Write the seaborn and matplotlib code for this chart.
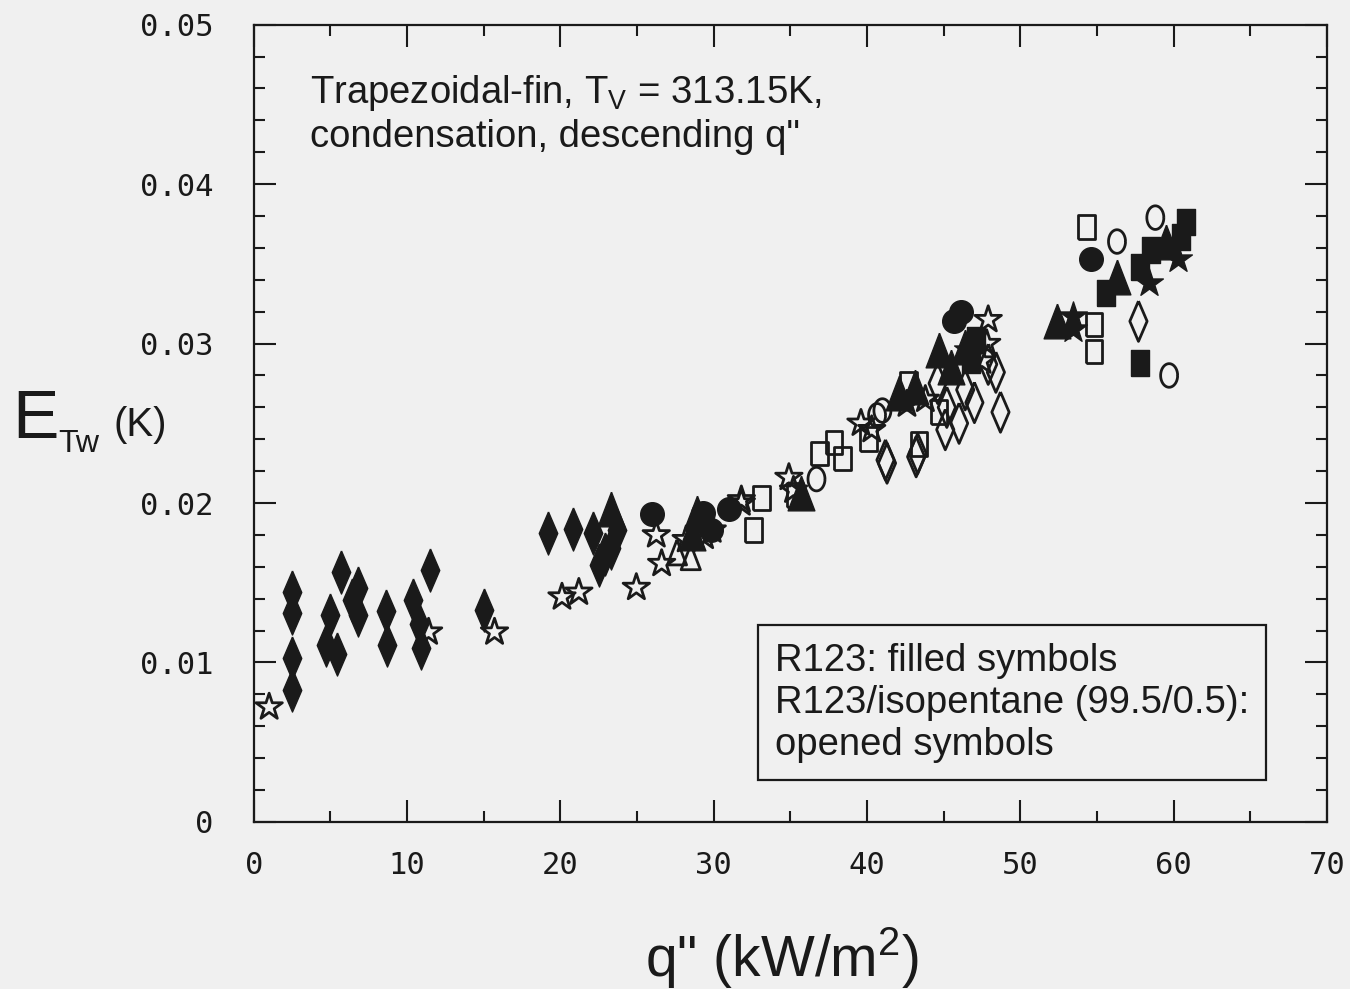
import numpy as np
import seaborn as sns
import matplotlib.pyplot as plt
from matplotlib.ticker import MultipleLocator

# 데이터
filled_diamond_q = [2.5, 2.5, 2.5, 2.5, 4.7, 5.0, 5.4, 5.7, 6.4, 6.8, 6.8, 8.6, 8.7,
                    10.4, 10.8, 11.5, 10.9, 15.0, 19.2, 20.8, 22.1, 22.5, 23.3, 23.7, 22.9]
filled_diamond_E = [0.0144, 0.0131, 0.0103, 0.0083, 0.0111, 0.0130, 0.0105, 0.0157, 0.0139,
                    0.0147, 0.0130, 0.0132, 0.0111, 0.0139, 0.0124, 0.0158, 0.0109, 0.0133,
                    0.0181, 0.0184, 0.0181, 0.0161, 0.0172, 0.0183, 0.0168]

filled_circle_q = [26.0, 29.3, 31.0, 29.8, 46.1, 45.7, 54.6]
filled_circle_E = [0.0193, 0.0194, 0.0196, 0.0183, 0.0320, 0.0314, 0.0353]

filled_triangle_q = [23.3, 28.9, 28.6, 35.7, 42.1, 43.1, 45.5, 44.7, 52.4, 56.3, 59.5, 46.4]
filled_triangle_E = [0.0196, 0.0194, 0.0181, 0.0206, 0.0269, 0.0273, 0.0285, 0.0296,
                     0.0314, 0.0342, 0.0364, 0.0298]

filled_square_q = [55.6, 57.8, 58.5, 60.5, 60.8, 57.8, 46.8, 47.1]
filled_square_E = [0.0332, 0.0348, 0.0359, 0.0367, 0.0376, 0.0288, 0.0290, 0.0302]

filled_star_q = [53.4, 53.4, 58.4, 60.3, 46.6]
filled_star_E = [0.0317, 0.0309, 0.0338, 0.0353, 0.0296]

open_star_q = [1.0, 11.4, 15.7, 20.1, 21.2, 24.95, 26.25, 26.6, 28.2, 29.4, 29.9, 31.8,
               31.8, 34.9, 39.6, 43.8, 47.9, 47.8, 47.5, 35.2, 40.3, 42.6]
open_star_E = [0.0072, 0.0119, 0.0119, 0.0141, 0.0144, 0.0147, 0.0180, 0.0162, 0.0177,
               0.0179, 0.0183, 0.0202, 0.0200, 0.0216, 0.0250, 0.0265, 0.0315, 0.0300,
               0.0289, 0.0208, 0.0246, 0.0262]

open_square_q = [33.1, 32.6, 36.9, 37.85, 38.4, 42.7, 44.7, 40.1, 43.4, 54.3, 54.8, 54.8, 35.3]
open_square_E = [0.0203, 0.0183, 0.0231, 0.0238, 0.0228, 0.0275, 0.0257, 0.0240, 0.0237,
                 0.0373, 0.0312, 0.0295, 0.0205]

open_circle_q = [36.7, 40.65, 41.0, 58.8, 56.3, 59.7]
open_circle_E = [0.0215, 0.0255, 0.0258, 0.0379, 0.0364, 0.0280]

open_triangle_q = [27.6, 28.5]
open_triangle_E = [0.0169, 0.0166]

open_diamond_q = [41.2, 43.2, 41.3, 43.3, 45.1, 46.0, 47.0, 48.7, 48.4, 44.6, 45.2, 46.4,
                  57.7, 47.9]
open_diamond_E = [0.0227, 0.0229, 0.0225, 0.0231, 0.0246, 0.0250, 0.0263, 0.0257, 0.0282,
                  0.0275, 0.0260, 0.0271, 0.0314, 0.0287]

x_ticks = [0, 10, 20, 30, 40, 50, 60, 70]
y_ticks = [0, 0.01, 0.02, 0.03, 0.04, 0.05]
y_tick_labels = ['0', '0.01', '0.02', '0.03', '0.04', '0.05']

# 스타일
sns.set_style('ticks')
plt.rcParams['font.family'] = ['Liberation Sans', 'DejaVu Sans']
plt.rcParams['mathtext.fontset'] = 'custom'
plt.rcParams['mathtext.rm'] = 'Liberation Sans'
plt.rcParams['mathtext.it'] = 'Liberation Sans'

bg = '#f0f0f0'
ink = '#1a1a1a'

# 마커 모양 (세로로 긴 기호)
tall_diamond = [(0, 1), (0.43, 0), (0, -1), (-0.43, 0), (0, 1)]
tall_rect = [(-0.7, -1), (0.7, -1), (0.7, 1), (-0.7, 1), (-0.7, -1)]
tall_tri = [(0, 1), (0.77, -1), (-0.77, -1), (0, 1)]
t = np.linspace(0, 2 * np.pi, 40)
tall_ellipse = list(zip(0.72 * np.cos(t), np.sin(t)))

fig = plt.figure(figsize=(13.5, 9.89), dpi=100, facecolor=bg)
ax = fig.add_axes([0.188, 0.169, 0.795, 0.806])
ax.set_facecolor(bg)

series = [
    (filled_diamond_q, filled_diamond_E, tall_diamond, 31, True),
    (filled_circle_q, filled_circle_E, 'o', 17, True),
    (filled_triangle_q, filled_triangle_E, tall_tri, 25, True),
    (filled_square_q, filled_square_E, tall_rect, 19, True),
    (filled_star_q, filled_star_E, '*', 21, True),
    (open_star_q, open_star_E, '*', 20, False),
    (open_square_q, open_square_E, tall_rect, 17, False),
    (open_circle_q, open_circle_E, tall_ellipse, 17, False),
    (open_triangle_q, open_triangle_E, tall_tri, 18, False),
    (open_diamond_q, open_diamond_E, tall_diamond, 29, False),
]

for q, e, m, size, filled in series:
    if filled:
        sns.scatterplot(x=q, y=e, marker=m, s=size ** 2, facecolor=ink,
                        edgecolor=ink, linewidth=1, ax=ax, zorder=3)
    else:
        sns.scatterplot(x=q, y=e, marker=m, s=size ** 2, facecolor='none',
                        edgecolor=ink, linewidth=2, ax=ax, zorder=3)

ax.set_xlim(0, 70)
ax.set_ylim(0, 0.05)
ax.set_xticks(x_ticks)
ax.set_yticks(y_ticks)
ax.set_yticklabels(y_tick_labels)
ax.xaxis.set_minor_locator(MultipleLocator(5))
ax.yaxis.set_minor_locator(MultipleLocator(0.002))
ax.tick_params(which='both', direction='in', top=True, right=True, width=1.5,
               colors=ink)
ax.tick_params(which='major', length=16)
ax.tick_params(which='minor', length=8)
ax.tick_params(axis='y', which='major', pad=29)
ax.tick_params(axis='x', which='major', pad=21)
for lab in ax.get_xticklabels() + ax.get_yticklabels():
    lab.set_fontfamily('DejaVu Sans Mono')
    lab.set_fontsize(22)
for sp in ax.spines.values():
    sp.set_linewidth(1.6)
    sp.set_color(ink)

# 축 제목
fig.text(0.009, 0.557, 'E', fontsize=50, color=ink, va='baseline')
fig.text(0.043, 0.543, 'Tw', fontsize=23, color=ink, va='baseline')
fig.text(0.084, 0.559, '(K)', fontsize=29, color=ink, va='baseline')
fig.text(0.579, 0.012, 'q" (kW/m$^2$)', fontsize=41, color=ink, ha='center',
         va='baseline')

# 주석
ax.text(0.052, 0.94, 'Trapezoidal-fin, T$_{\\mathrm{V}}$ = 313.15K,\ncondensation, descending q"',
        transform=ax.transAxes, fontsize=27.5, color=ink, va='top', linespacing=1.22)
ax.text(0.4856, 0.074, 'R123: filled symbols\nR123/isopentane (99.5/0.5):\nopened symbols',
        transform=ax.transAxes, fontsize=27.5, color=ink, va='bottom', linespacing=1.22,
        bbox=dict(boxstyle='square,pad=0.45', facecolor=bg, edgecolor=ink, linewidth=1.6))

fig.savefig('out.png', dpi=100, facecolor=bg)
